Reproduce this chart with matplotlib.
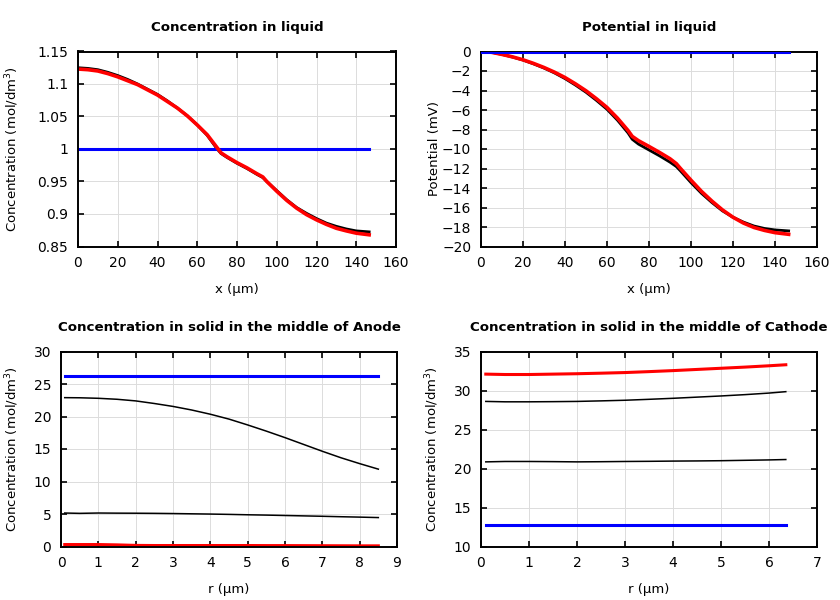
import matplotlib
matplotlib.use("Agg")
import matplotlib.pyplot as plt
import numpy as np

# concentration in liquid (mol/dm3) along x (um)
x_liq = [0, 5, 10, 15, 20, 25, 30, 35, 40, 45, 50, 55, 60, 65, 70, 72, 75, 80, 85, 90, 93,
         95, 100, 105, 110, 115, 120, 125, 130, 135, 140, 146.5]
c_liq_init = [1.0] * len(x_liq)
c_liq_mid = [1.125, 1.124, 1.122, 1.118, 1.113, 1.107, 1.100, 1.092, 1.084, 1.074, 1.063, 1.051,
             1.037, 1.021, 1.000, 0.993, 0.987, 0.978, 0.970, 0.961, 0.956, 0.950, 0.936, 0.922,
             0.910, 0.901, 0.893, 0.886, 0.881, 0.877, 0.874, 0.8725]
c_liq_end = [1.123, 1.122, 1.120, 1.116, 1.111, 1.105, 1.099, 1.091, 1.083, 1.073, 1.063, 1.051,
             1.037, 1.022, 1.002, 0.994, 0.988, 0.979, 0.971, 0.962, 0.957, 0.950, 0.935, 0.921,
             0.909, 0.899, 0.891, 0.884, 0.878, 0.874, 0.8705, 0.868]

# potential in liquid (mV)
phi_init = [0.0] * len(x_liq)
phi_mid = [0.0, -0.08, -0.3, -0.57, -0.88, -1.27, -1.7, -2.2, -2.78, -3.45, -4.18, -5.02,
           -5.93, -7.05, -8.35, -9.0, -9.5, -10.1, -10.7, -11.35, -11.8, -12.25, -13.45, -14.55,
           -15.5, -16.35, -17.0, -17.5, -17.9, -18.15, -18.3, -18.4]
phi_end = [0.0, -0.08, -0.3, -0.55, -0.85, -1.22, -1.64, -2.12, -2.67, -3.32, -4.03, -4.85,
           -5.74, -6.84, -8.1, -8.7, -9.15, -9.74, -10.35, -11.0, -11.5, -12.0, -13.2, -14.35,
           -15.35, -16.25, -17.0, -17.6, -18.05, -18.35, -18.58, -18.75]

# solid concentration in the middle of anode, r (um)
r_an = [0.1, 0.5, 1, 1.5, 2, 2.5, 3, 3.5, 4, 4.5, 5, 5.5, 6, 6.5, 7, 7.5, 8, 8.5]
cs_an_init = [26.2] * len(r_an)
cs_an_t1 = [22.9, 22.88, 22.8, 22.65, 22.4, 22.0, 21.55, 21.0, 20.35, 19.6, 18.7, 17.75,
            16.75, 15.7, 14.65, 13.65, 12.75, 11.9]
cs_an_t2 = [5.15, 5.1, 5.15, 5.13, 5.12, 5.1, 5.07, 5.03, 4.99, 4.94, 4.88, 4.83, 4.77,
            4.71, 4.65, 4.58, 4.52, 4.45]
cs_an_end = [0.3, 0.3, 0.3, 0.25, 0.17, 0.15, 0.15, 0.15, 0.15, 0.15, 0.15, 0.14, 0.14,
             0.13, 0.12, 0.11, 0.1, 0.1]

# solid concentration in the middle of cathode
r_ca = [0.1, 0.5, 1, 1.5, 2, 2.5, 3, 3.5, 4, 4.5, 5, 5.5, 6, 6.35]
cs_ca_init = [12.75] * len(r_ca)
cs_ca_t1 = [20.85, 20.9, 20.9, 20.88, 20.85, 20.87, 20.9, 20.92, 20.95, 20.97, 21.0, 21.05,
            21.1, 21.15]
cs_ca_t2 = [28.6, 28.55, 28.55, 28.57, 28.6, 28.67, 28.75, 28.87, 29.0, 29.15, 29.3, 29.47,
            29.67, 29.85]
cs_ca_end = [32.1, 32.05, 32.05, 32.1, 32.15, 32.22, 32.3, 32.42, 32.55, 32.7, 32.85, 33.0,
             33.17, 33.3]

plt.rcParams['font.family'] = 'DejaVu Sans'
plt.rcParams['font.size'] = 10

fig = plt.figure(figsize=(8.4, 6), dpi=100)

def make_axes(rect, title, xlabel, ylabel, xlim, ylim, xticks, yticks, ylab_x, ytl=None):
    ax = fig.add_axes(rect)
    ax.set_xlim(xlim)
    ax.set_ylim(ylim)
    ax.set_xticks(xticks)
    ax.set_yticks(yticks)
    if ytl is not None:
        ax.set_yticklabels(ytl)
    ax.grid(True, color='#dcdcdc', lw=0.7)
    ax.set_axisbelow(True)
    ax.tick_params(direction='in', top=True, right=True, length=4, width=1.2, labelsize=10, pad=7)
    for s in ax.spines.values():
        s.set_linewidth(1.4)
    ax.set_title(title, fontsize=9.6, fontweight='bold', pad=15)
    ax.set_xlabel(xlabel, fontsize=9.5, labelpad=9)
    ax.set_ylabel(ylabel, fontsize=9.5)
    ax.yaxis.set_label_coords(ylab_x, 0.5)
    return ax

W, H = 840, 600

def rect(l, r, t, b):
    return [l / W, 1 - b / H, (r - l) / W, (b - t) / H]

ax1 = make_axes(rect(78, 396, 51.5, 246.5), 'Concentration in liquid', 'x (µm)',
                'Concentration (mol/dm$^3$)', (0, 160), (0.85, 1.15),
                np.arange(0, 161, 20), [0.85, 0.9, 0.95, 1.0, 1.05, 1.1, 1.15], -0.18,
                ['0.85', '0.9', '0.95', '1', '1.05', '1.1', '1.15'])
ax1.plot(x_liq, c_liq_mid, color='black', lw=2.0)
ax1.plot(x_liq, c_liq_init, color='#0000ff', lw=2.2)
ax1.plot(x_liq, c_liq_end, color='#ff0000', lw=2.6)

ax2 = make_axes(rect(481, 817, 51.5, 246.5), 'Potential in liquid', 'x (µm)',
                'Potential (mV)', (0, 160), (-20, 0),
                np.arange(0, 161, 20), np.arange(-20, 1, 2), -0.12)
ax2.plot(x_liq, phi_mid, color='black', lw=2.0)
ax2.plot(x_liq, phi_end, color='#ff0000', lw=2.6)
ax2.plot(x_liq, phi_init, color='#0000ff', lw=2.2, zorder=3)

ax3 = make_axes(rect(61, 397, 351.5, 546.5), 'Concentration in solid in the middle of Anode', 'r (µm)',
                'Concentration (mol/dm$^3$)', (0, 9), (0, 30),
                np.arange(0, 10, 1), np.arange(0, 31, 5), -0.12)
ax3.plot(r_an, cs_an_t1, color='black', lw=1.1)
ax3.plot(r_an, cs_an_t2, color='black', lw=1.1)
ax3.plot(r_an, cs_an_init, color='#0000ff', lw=2.2)
ax3.plot(r_an, cs_an_end, color='#ff0000', lw=2.2)

ax4 = make_axes(rect(481, 817, 351.5, 546.5), 'Concentration in solid in the middle of Cathode', 'r (µm)',
                'Concentration (mol/dm$^3$)', (0, 7), (10, 35),
                np.arange(0, 8, 1), np.arange(10, 36, 5), -0.12)
ax4.plot(r_ca, cs_ca_t1, color='black', lw=1.1)
ax4.plot(r_ca, cs_ca_t2, color='black', lw=1.1)
ax4.plot(r_ca, cs_ca_init, color='#0000ff', lw=2.2)
ax4.plot(r_ca, cs_ca_end, color='#ff0000', lw=2.2)

fig.savefig('out.png', dpi=100)
